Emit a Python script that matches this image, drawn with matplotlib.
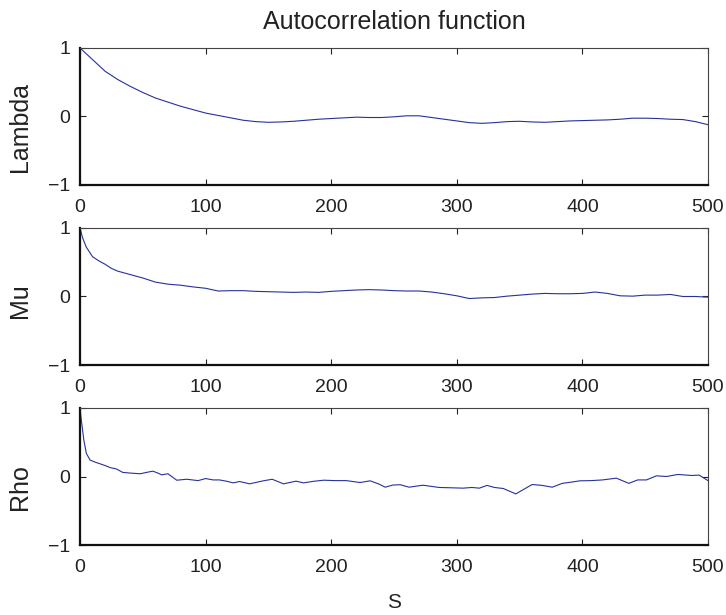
import matplotlib
matplotlib.use('Agg')
import matplotlib.pyplot as plt

plt.rcParams['font.family'] = ['Liberation Sans', 'DejaVu Sans']

# values (lag, autocorrelation)
lambda_lags = [0, 10, 20, 30, 40, 50, 60, 70, 80, 90, 100, 110, 120, 130, 140, 150, 160, 170, 180, 190,
               200, 210, 220, 230, 240, 250, 260, 270, 280, 290, 300, 310, 320, 330, 340, 350, 360, 370,
               380, 390, 400, 410, 420, 430, 440, 450, 460, 470, 480, 490, 500]
lambda_acf = [1.0, 0.83, 0.66, 0.54, 0.44, 0.35, 0.27, 0.21, 0.15, 0.10, 0.05, 0.015, -0.02, -0.055,
              -0.075, -0.085, -0.08, -0.07, -0.055, -0.04, -0.03, -0.02, -0.01, -0.015, -0.015, -0.005,
              0.01, 0.01, -0.015, -0.04, -0.065, -0.09, -0.10, -0.09, -0.075, -0.07, -0.08, -0.085,
              -0.075, -0.065, -0.06, -0.055, -0.05, -0.04, -0.025, -0.025, -0.03, -0.04, -0.045, -0.075, -0.12]

mu_lags = [0, 2, 5, 10, 15, 20, 25, 30, 40, 50, 60, 70, 80, 90, 100, 110, 120, 130, 140, 150, 160, 170,
           180, 190, 200, 210, 220, 230, 240, 250, 260, 270, 280, 290, 300, 310, 320, 330, 340, 350, 360,
           370, 380, 390, 400, 410, 420, 430, 440, 450, 460, 470, 480, 490, 500]
mu_acf = [1.0, 0.86, 0.72, 0.58, 0.52, 0.47, 0.41, 0.37, 0.32, 0.27, 0.21, 0.18, 0.165, 0.14, 0.12, 0.08,
          0.085, 0.085, 0.075, 0.07, 0.065, 0.06, 0.065, 0.06, 0.075, 0.085, 0.095, 0.10, 0.095, 0.085,
          0.08, 0.08, 0.065, 0.04, 0.01, -0.03, -0.02, -0.015, 0.005, 0.02, 0.035, 0.045, 0.04, 0.04,
          0.045, 0.065, 0.045, 0.01, 0.005, 0.02, 0.02, 0.03, 0.0, 0.0, -0.01]

rho_lags = [0, 1, 3, 5, 8, 12, 16, 20, 24, 29, 34, 40, 48, 53, 58, 62, 65, 70, 77, 85, 94, 100, 106, 111,
            117, 122, 127, 135, 146, 153, 162, 172, 178, 186, 194, 203, 212, 223, 231, 238, 243, 249, 255,
            262, 273, 286, 296, 305, 312, 318, 324, 330, 337, 347, 354, 360, 368, 376, 384, 392, 398, 407,
            416, 427, 437, 444, 451, 459, 467, 476, 487, 493, 500]
rho_acf = [1.0, 0.83, 0.54, 0.34, 0.24, 0.21, 0.185, 0.16, 0.13, 0.11, 0.06, 0.05, 0.04, 0.06, 0.078, 0.05,
           0.024, 0.04, -0.054, -0.04, -0.06, -0.03, -0.05, -0.05, -0.07, -0.093, -0.073, -0.107, -0.063,
           -0.04, -0.107, -0.068, -0.093, -0.07, -0.054, -0.06, -0.06, -0.088, -0.063, -0.11, -0.156,
           -0.125, -0.12, -0.156, -0.127, -0.16, -0.165, -0.17, -0.16, -0.17, -0.13, -0.16, -0.175, -0.254,
           -0.18, -0.117, -0.13, -0.156, -0.10, -0.08, -0.063, -0.06, -0.05, -0.024, -0.10, -0.05, -0.05,
           0.01, 0.0, 0.03, 0.015, 0.02, -0.06]

names = ['Lambda', 'Mu', 'Rho']
series = [(lambda_lags, lambda_acf), (mu_lags, mu_acf), (rho_lags, rho_acf)]
x_ticks = [0, 100, 200, 300, 400, 500]
y_ticks = [-1, 0, 1]

fig = plt.figure(figsize=(7.26, 6.15), dpi=100)
bottoms = [0.6992, 0.4065, 0.1138]
label_y = [0.7935, 0.5106, 0.2081]

for i, (name, (lags, acf)) in enumerate(zip(names, series)):
    ax = fig.add_axes([0.1102, bottoms[i], 0.865, 0.2228])
    ax.plot(lags, acf, color='#26329c', lw=0.8)
    ax.set_xlim(0, 500)
    ax.set_ylim(-1, 1)
    ax.set_xticks(x_ticks)
    ax.set_yticks(y_ticks)
    ax.set_yticklabels(['\u22121', '0', '1'])
    ax.tick_params(direction='in', top=True, right=True, length=4, width=0.8,
                   labelsize=14, colors='#222222')
    ax.tick_params(axis='x', pad=10)
    ax.tick_params(axis='y', pad=7)
    for side in ['left', 'bottom']:
        ax.spines[side].set_linewidth(1.6)
        ax.spines[side].set_color('#111111')
    for side in ['top', 'right']:
        ax.spines[side].set_linewidth(0.8)
        ax.spines[side].set_color('#444444')
    # y label placed in figure coords so it is not clipped
    fig.text(0.027, label_y[i], name, rotation=90, ha='center', va='center',
             fontsize=18, color='#222222')
    if i == 0:
        ax.set_title('Autocorrelation function', fontsize=18, color='#222222', pad=14)
    if i == 2:
        ax.set_xlabel('S', fontsize=15, color='#222222', labelpad=12)

fig.savefig('out.png', dpi=100)
